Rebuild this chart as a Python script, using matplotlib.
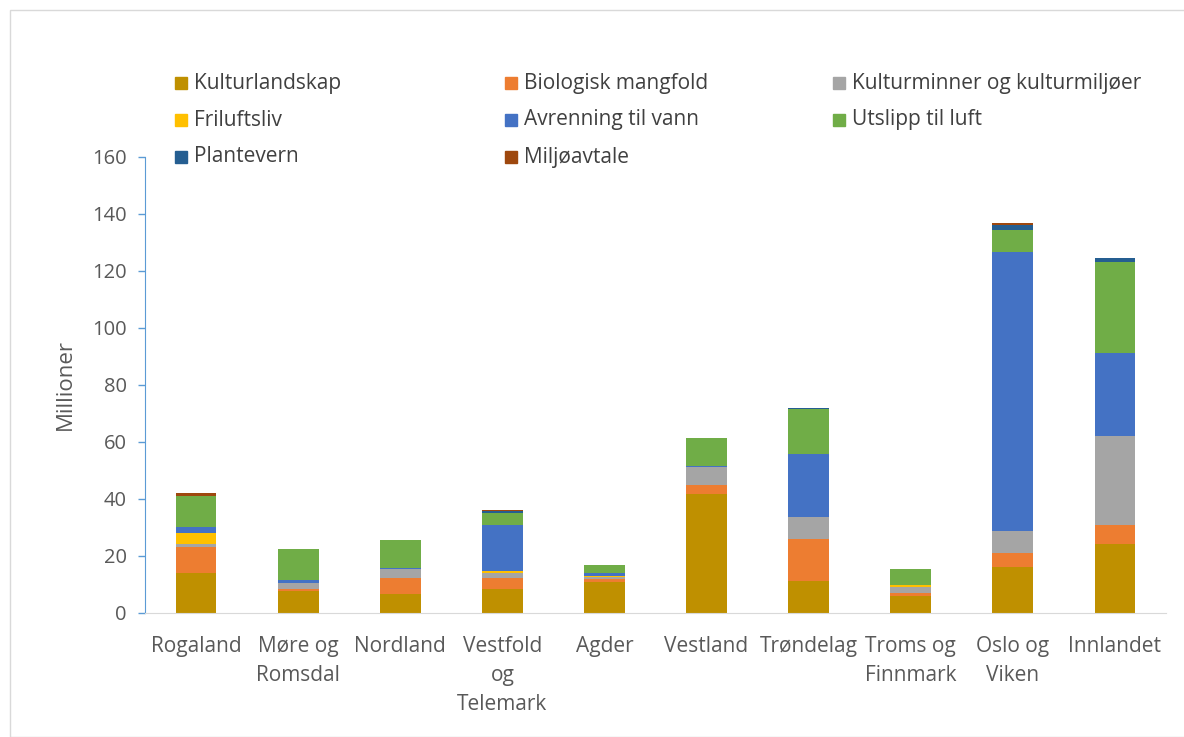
import matplotlib
matplotlib.use("Agg")
import matplotlib.pyplot as plt
from matplotlib.patches import Rectangle
import numpy as np

# data (millioner kr)
regions = ["Rogaland", "Møre og\nRomsdal", "Nordland", "Vestfold\nog\nTelemark", "Agder",
           "Vestland", "Trøndelag", "Troms og\nFinnmark", "Oslo og\nViken", "Innlandet"]
series = ["Kulturlandskap", "Biologisk mangfold", "Kulturminner og kulturmiljøer",
          "Friluftsliv", "Avrenning til vann", "Utslipp til luft", "Plantevern", "Miljøavtale"]
kulturlandskap = [13.9, 7.6, 6.6, 8.1, 10.8, 41.7, 11.0, 5.9, 15.9, 24.0]
biologisk      = [9.0, 0.5, 5.6, 4.1, 1.0, 3.2, 14.7, 0.9, 5.1, 6.8]
kulturminner   = [1.3, 2.4, 3.1, 1.8, 0.8, 6.3, 8.0, 2.1, 7.5, 31.1]
friluftsliv    = [3.6, 0.0, 0.0, 0.6, 0.2, 0.0, 0.0, 0.8, 0.0, 0.0]
avrenning      = [2.1, 0.9, 0.4, 16.2, 1.0, 0.4, 21.8, 0.0, 98.0, 29.3]
utslipp        = [11.0, 10.8, 9.8, 4.1, 2.9, 9.7, 15.9, 5.6, 7.7, 32.0]
plantevern     = [0.0, 0.0, 0.0, 0.7, 0.0, 0.0, 0.4, 0.0, 1.8, 1.4]
miljoavtale    = [1.1, 0.0, 0.0, 0.4, 0.0, 0.0, 0.0, 0.0, 0.8, 0.0]

colors = ["#BF9000", "#ED7D31", "#A5A5A5", "#FFC000", "#4472C4", "#70AD47", "#255E91", "#9E480E"]
values = [kulturlandskap, biologisk, kulturminner, friluftsliv, avrenning, utslipp, plantevern, miljoavtale]

plt.rcParams["font.family"] = ["Open Sans", "DejaVu Sans"]
txt = "#595959"

W, H = 1184, 737
fig = plt.figure(figsize=(W / 100, H / 100), dpi=100)
fig.patches.append(Rectangle((10 / W, 0), 1.2, (H - 10) / H, transform=fig.transFigure,
                             fill=False, edgecolor="#D9D9D9", linewidth=1))

ax = fig.add_axes([145 / W, (H - 612.5) / H, (1166 - 145) / W, (612.5 - 157) / H])
x = np.arange(len(regions))
bottom = np.zeros(len(regions))
for name, vals, c in zip(series, values, colors):
    ax.bar(x, vals, 0.4, bottom=bottom, color=c, label=name, linewidth=0)
    bottom += np.array(vals)

ax.set_ylim(0, 160)
ax.set_xlim(-0.5, len(regions) - 0.5)
ax.set_yticks(range(0, 161, 20))
ax.set_xticks(x)
ax.set_xticklabels(regions, fontsize=15, color=txt, linespacing=1.5)
ax.tick_params(axis="x", length=0, pad=17)
ax.tick_params(axis="y", labelsize=14.5, labelcolor=txt, colors="#5B9BD5", length=5, width=1, pad=8)
for s in ["top", "right"]:
    ax.spines[s].set_visible(False)
ax.spines["left"].set_color("#5B9BD5")
ax.spines["bottom"].set_color("#D9D9D9")
ax.set_ylabel("Millioner", fontsize=16, color=txt, labelpad=12)

# legend, three items per row
col_x = [175, 505, 833]
row_y = [83, 120, 157]
for i, (name, c) in enumerate(zip(series, colors)):
    r, k = divmod(i, 3)
    fig.patches.append(Rectangle((col_x[k] / W, (H - row_y[r] - 6) / H), 12 / W, 12 / H,
                                 transform=fig.transFigure, color=c))
    fig.text((col_x[k] + 19) / W, (H - row_y[r]) / H, name, fontsize=15, color="#404040",
             va="center", ha="left")

fig.savefig("out.png", dpi=100)
